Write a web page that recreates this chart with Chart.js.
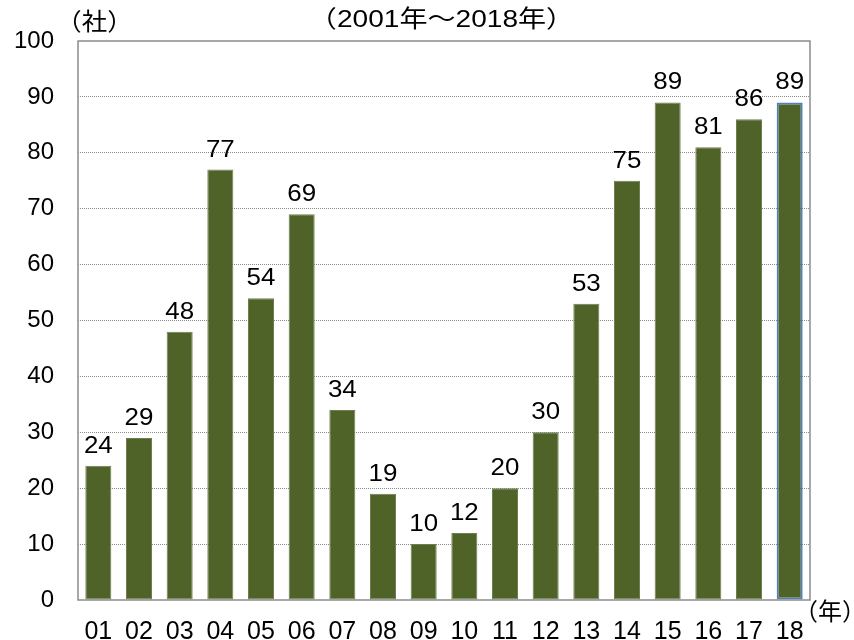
<!DOCTYPE html>
<html><head><meta charset="utf-8">
<script src="https://cdn.jsdelivr.net/npm/chart.js@4/dist/chart.umd.min.js"></script>
<style>html,body{margin:0;padding:0;background:#fff}#wrap{width:854px;height:640px}</style>
</head><body><div id="wrap"><canvas id="c" width="854" height="640"></canvas></div>
<script>
const categories = ["01","02","03","04","05","06","07","08","09","10","11","12","13","14","15","16","17","18"];
const values = [24,29,48,77,54,69,34,19,10,12,20,30,53,75,89,81,86,89];
const yTicks = [0,10,20,30,40,50,60,70,80,90,100];
const titleText = "（2001年～2018年）";
const yUnit = "（社）";
const xUnit = "（年）";
const FONT = "'Liberation Sans', Arial, 'Noto Sans CJK JP', sans-serif";

function stretchText(ctx, text, cx, cy, k) {
  ctx.save();
  ctx.translate(cx, cy);
  ctx.scale(k, 1);
  ctx.textAlign = 'center';
  ctx.fillText(text, 0, 0);
  ctx.restore();
}

const overlay = {
  id: 'overlay',
  afterDraw(chart) {
    const {ctx, chartArea: a} = chart;
    ctx.save();
    ctx.strokeStyle = '#8c8c8c';
    ctx.lineWidth = 1.5;
    ctx.strokeRect(a.left, a.top, a.right - a.left, a.bottom - a.top);
    ctx.fillStyle = '#000';
    ctx.textBaseline = 'alphabetic';
    const meta = chart.getDatasetMeta(0);
    ctx.font = '24px ' + FONT;
    meta.data.forEach((bar, i) => {
      stretchText(ctx, String(values[i]), bar.x, bar.y - 13, 1.08);
    });
    ctx.textBaseline = 'middle';
    ctx.font = '24px ' + FONT;
    stretchText(ctx, titleText, 441.5, 20, 1.17);
    stretchText(ctx, yUnit, 94.5, 23, 1.06);
    stretchText(ctx, xUnit, 830, 613, 1.0);
    ctx.restore();
  }
};

new Chart(document.getElementById('c'), {
  type: 'bar',
  data: {
    labels: categories,
    datasets: [{
      data: values,
      backgroundColor: '#4F6228',
      borderColor: values.map((v, i) => i === values.length - 1 ? '#4F81BD' : '#6E7E50'),
      borderWidth: values.map((v, i) => i === values.length - 1 ? 2 : 1),
      borderSkipped: false,
      barPercentage: 0.64,
      categoryPercentage: 1.0
    }]
  },
  options: {
    responsive: false,
    animation: false,
    devicePixelRatio: 1,
    layout: { padding: { left: 0, right: 44, top: 41, bottom: 0 } },
    plugins: { legend: { display: false }, title: { display: false }, tooltip: { enabled: false } },
    scales: {
      x: {
        grid: { display: false },
        border: { display: false },
        ticks: { color: '#000', font: { size: 25, family: FONT }, padding: 9, maxRotation: 0, autoSkip: false },
        afterFit(s) { s.height = 40; }
      },
      y: {
        min: 0, max: 100,
        afterBuildTicks(s) { s.ticks = yTicks.map(v => ({ value: v })); },
        grid: {
          color: ctx => (ctx.tick && (ctx.tick.value === 0 || ctx.tick.value === 100)) ? 'rgba(0,0,0,0)' : '#8a8a8a',
          lineWidth: 1,
          drawTicks: false
        },
        border: { display: false, dash: [1, 1] },
        ticks: { color: '#000', font: { size: 24, family: FONT }, padding: 24 },
        afterFit(s) { s.width = 78; }
      }
    }
  },
  plugins: [overlay]
});
</script></body></html>
